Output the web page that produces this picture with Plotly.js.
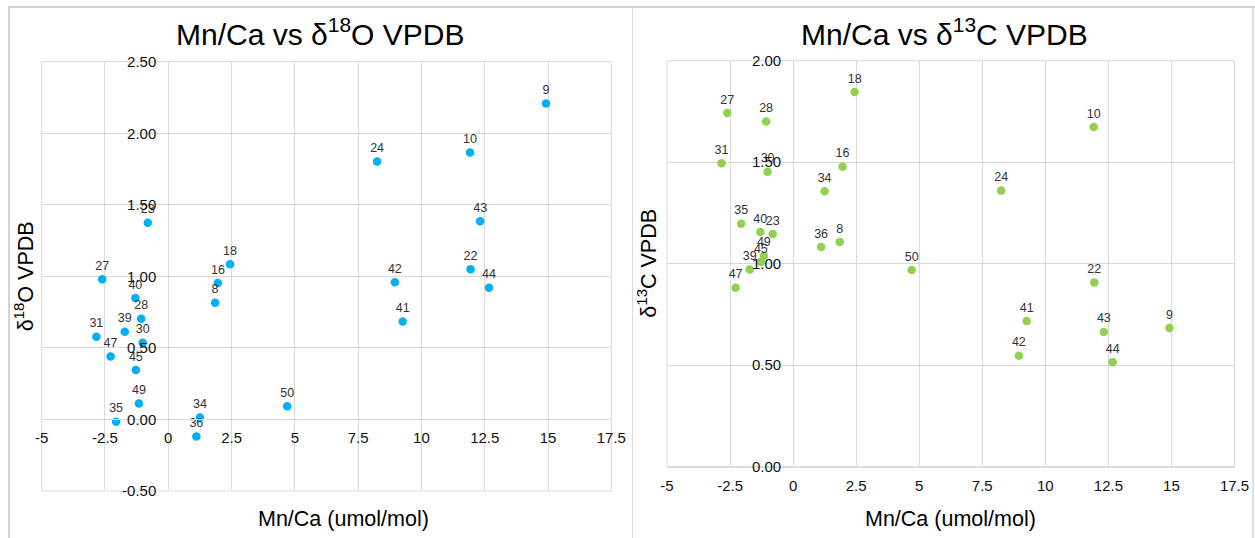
<!DOCTYPE html>
<html>
<head>
<meta charset="utf-8">
<script src="https://cdn.plot.ly/plotly-3.0.1.min.js"></script>
<style>html,body{margin:0;padding:0;background:#fff;}</style>
</head>
<body>
<div id="chart" style="width:1255px;height:538px;"></div>
<script>
// Sample labels
const samples = ['8','9','10','16','18','22','23','24','27','28','30','31','34','35','36','39','40','41','42','43','44','45','47','49','50'];
// Mn/Ca (umol/mol)
const mnca = [1.85,14.92,11.92,1.96,2.44,11.94,-0.81,8.25,-2.61,-1.07,-1.01,-2.84,1.25,-2.06,1.11,-1.72,-1.30,9.26,8.95,12.32,12.67,-1.28,-2.28,-1.16,4.70];
// δ18O VPDB
const d18O = [0.816,2.208,1.865,0.953,1.084,1.049,1.375,1.802,0.979,0.704,0.536,0.578,0.014,-0.016,-0.119,0.613,0.848,0.685,0.958,1.385,0.921,0.345,0.440,0.112,0.093];
// δ13C VPDB
const d13C = [1.107,0.683,1.673,1.478,1.846,0.908,1.146,1.360,1.742,1.701,1.453,1.495,1.357,1.197,1.082,0.972,1.156,0.718,0.547,0.664,0.514,1.008,0.882,1.039,0.969];

// Tick labels
const xTickVals = [-5,-2.5,0,2.5,5,7.5,10,12.5,15,17.5];
const xTickText = ['-5','-2.5','0','2.5','5','7.5','10','12.5','15','17.5'];
const y1TickVals = [-0.5,0,0.5,1,1.5,2,2.5];
const y1TickText = ['-0.50','0.00','0.50','1.00','1.50','2.00','2.50'];
const y2TickVals = [0,0.5,1,1.5,2];
const y2TickText = ['0.00','0.50','1.00','1.50','2.00'];

const W = 1255, H = 538;
const px = v => v / W;
const py = v => 1 - v / H;

const FONT = '"Liberation Sans", Arial, sans-serif';
const GRID = '#d9d9d9';

const traces = [
  {
    x: mnca, y: d18O, text: samples, type: 'scatter', mode: 'markers+text',
    xaxis: 'x', yaxis: 'y',
    marker: {color: '#00b0f0', size: 8.5},
    textposition: 'top center',
    textfont: {family: FONT, size: 12.5, color: '#333'},
    cliponaxis: false, hoverinfo: 'x+y+text'
  },
  {
    x: mnca, y: d13C, text: samples, type: 'scatter', mode: 'markers+text',
    xaxis: 'x2', yaxis: 'y2',
    marker: {color: '#92d050', size: 8.5},
    textposition: 'top center',
    textfont: {family: FONT, size: 12.5, color: '#333'},
    cliponaxis: false, hoverinfo: 'x+y+text'
  }
];

const axCommon = {
  showgrid: true, gridcolor: GRID, gridwidth: 1,
  showline: true, linecolor: GRID, linewidth: 1,
  zeroline: false, ticks: '',
  tickfont: {family: FONT, size: 15, color: '#111'},
  fixedrange: true, tickmode: 'array'
};

const L = {x0: 41.7, x1: 611.3, yTop: 61.7, yBot: 491};
const R = {x0: 667, x1: 1234.5, yTop: 60.7, yBot: 466.7};

const layout = {
  width: W, height: H,
  margin: {l: 0, r: 0, t: 0, b: 0, pad: 0},
  paper_bgcolor: '#fff', plot_bgcolor: '#fff',
  showlegend: false,
  font: {family: FONT, color: '#000'},
  xaxis: Object.assign({}, axCommon, {
    domain: [px(L.x0), px(L.x1)], range: [-5, 17.5],
    tickvals: xTickVals, ticktext: xTickText,
    anchor: 'free', position: py(L.yBot - (0 - (-0.5)) / 3 * (L.yBot - L.yTop)),
    ticklabelstandoff: 5
  }),
  yaxis: Object.assign({}, axCommon, {
    domain: [py(L.yBot), py(L.yTop)], range: [-0.5, 2.5],
    tickvals: y1TickVals, ticktext: y1TickText,
    anchor: 'free', position: px(L.x0 + 5 / 22.5 * (L.x1 - L.x0)),
    ticklabelstandoff: 9
  }),
  xaxis2: Object.assign({}, axCommon, {
    domain: [px(R.x0), px(R.x1)], range: [-5, 17.5],
    tickvals: xTickVals, ticktext: xTickText,
    anchor: 'y2',
    ticklabelstandoff: 5
  }),
  yaxis2: Object.assign({}, axCommon, {
    domain: [py(R.yBot), py(R.yTop)], range: [0, 2],
    tickvals: y2TickVals, ticktext: y2TickText,
    anchor: 'free', position: px(R.x0 + 5 / 22.5 * (R.x1 - R.x0)),
    ticklabelstandoff: 9
  }),
  shapes: [
    // plot frames
    {type: 'rect', xref: 'paper', yref: 'paper', x0: px(L.x0), x1: px(L.x1), y0: py(L.yBot), y1: py(L.yTop), line: {color: GRID, width: 1}, layer: 'below'},
    {type: 'rect', xref: 'paper', yref: 'paper', x0: px(R.x0), x1: px(R.x1), y0: py(R.yBot), y1: py(R.yTop), line: {color: GRID, width: 1}, layer: 'below'},
    // chart borders
    {type: 'line', xref: 'paper', yref: 'paper', x0: px(8), x1: 1, y0: py(7), y1: py(7), line: {color: '#d4d4d4', width: 2}},
    {type: 'line', xref: 'paper', yref: 'paper', x0: px(9), x1: px(9), y0: py(7), y1: 0, line: {color: '#d4d4d4', width: 2}},
    {type: 'line', xref: 'paper', yref: 'paper', x0: px(632.5), x1: px(632.5), y0: py(7), y1: 0, line: {color: '#d9d9d9', width: 1}},
    {type: 'line', xref: 'paper', yref: 'paper', x0: px(1253), x1: px(1253), y0: py(7), y1: 0, line: {color: '#d4d4d4', width: 1.5}}
  ],
  annotations: [
    {text: 'Mn/Ca vs δ<sup>18</sup>O VPDB', xref: 'paper', yref: 'paper', x: px(320), y: py(32), xanchor: 'center', yanchor: 'middle', showarrow: false, font: {family: FONT, size: 30, color: '#000'}},
    {text: 'Mn/Ca vs δ<sup>13</sup>C VPDB', xref: 'paper', yref: 'paper', x: px(944), y: py(32), xanchor: 'center', yanchor: 'middle', showarrow: false, font: {family: FONT, size: 30, color: '#000'}},
    {text: 'Mn/Ca (umol/mol)', xref: 'paper', yref: 'paper', x: px((L.x0 + L.x1) / 2 + 17), y: py(519), xanchor: 'center', yanchor: 'middle', showarrow: false, font: {family: FONT, size: 21.5, color: '#000'}},
    {text: 'Mn/Ca (umol/mol)', xref: 'paper', yref: 'paper', x: px((R.x0 + R.x1) / 2), y: py(519), xanchor: 'center', yanchor: 'middle', showarrow: false, font: {family: FONT, size: 21.5, color: '#000'}},
    {text: 'δ<sup>18</sup>O VPDB', xref: 'paper', yref: 'paper', x: px(24), y: py((L.yTop + L.yBot) / 2), xanchor: 'center', yanchor: 'middle', textangle: -90, showarrow: false, font: {family: FONT, size: 21.5, color: '#000'}},
    {text: 'δ<sup>13</sup>C VPDB', xref: 'paper', yref: 'paper', x: px(647), y: py((R.yTop + R.yBot) / 2), xanchor: 'center', yanchor: 'middle', textangle: -90, showarrow: false, font: {family: FONT, size: 21.5, color: '#000'}}
  ]
};

Plotly.newPlot('chart', traces, layout, {displayModeBar: false, staticPlot: true});
</script>
</body>
</html>
